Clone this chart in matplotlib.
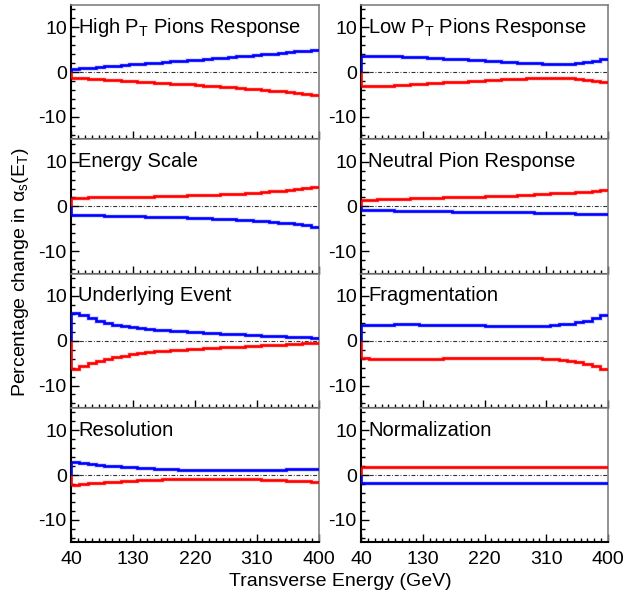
import matplotlib
matplotlib.use('Agg')
import matplotlib.pyplot as plt
from matplotlib.ticker import MultipleLocator, FixedLocator
import numpy as np

plt.rcParams['font.family'] = ['Liberation Sans', 'DejaVu Sans']
plt.rcParams['mathtext.fontset'] = 'custom'
plt.rcParams['mathtext.rm'] = 'Liberation Sans'
plt.rcParams['mathtext.it'] = 'Liberation Sans:italic'
plt.rcParams['axes.unicode_minus'] = False

# transverse energy binning (GeV), 30 bins of 12 GeV
et_edges = np.linspace(40, 400, 31)

titles = [r'High P$_\mathrm{T}$ Pions Response', r'Low P$_\mathrm{T}$ Pions Response',
          'Energy Scale', 'Neutral Pion Response',
          'Underlying Event', 'Fragmentation',
          'Resolution', 'Normalization']

# percentage change, blue = one variation, red = the other
hipt_blue = [0.7, 0.85, 1.0, 1.15, 1.3, 1.45, 1.6, 1.75, 1.9, 2.0, 2.15, 2.3, 2.4, 2.55, 2.65,
             2.8, 2.95, 3.1, 3.25, 3.4, 3.55, 3.7, 3.85, 4.0, 4.15, 4.3, 4.5, 4.65, 4.8, 4.95]
hipt_red = [-1.2, -1.3, -1.45, -1.55, -1.65, -1.8, -1.9, -2.0, -2.1, -2.2, -2.35, -2.45, -2.55, -2.65, -2.75,
            -2.85, -3.0, -3.1, -3.25, -3.4, -3.55, -3.7, -3.85, -4.0, -4.15, -4.3, -4.5, -4.65, -4.85, -5.0]

lopt_blue = [3.6, 3.6, 3.6, 3.55, 3.5, 3.4, 3.35, 3.3, 3.2, 3.1, 3.0, 2.95, 2.85, 2.75, 2.65,
             2.55, 2.45, 2.35, 2.25, 2.15, 2.05, 1.95, 1.9, 1.85, 1.85, 1.9, 2.0, 2.2, 2.5, 2.9]
lopt_red = [-3.2, -3.15, -3.1, -3.0, -2.9, -2.8, -2.7, -2.6, -2.5, -2.4, -2.3, -2.2, -2.1, -2.0, -1.9,
            -1.8, -1.7, -1.6, -1.55, -1.5, -1.4, -1.35, -1.3, -1.3, -1.3, -1.35, -1.45, -1.65, -1.9, -2.25]

escale_blue = [-1.9, -1.95, -2.0, -2.0, -2.05, -2.1, -2.15, -2.2, -2.2, -2.25, -2.3, -2.35, -2.4, -2.45, -2.5,
               -2.55, -2.6, -2.7, -2.75, -2.85, -2.95, -3.05, -3.15, -3.3, -3.45, -3.6, -3.8, -4.0, -4.25, -4.5]
escale_red = [1.9, 1.95, 2.0, 2.0, 2.05, 2.1, 2.1, 2.15, 2.2, 2.2, 2.25, 2.3, 2.35, 2.4, 2.45,
              2.5, 2.55, 2.6, 2.7, 2.75, 2.85, 2.95, 3.05, 3.2, 3.35, 3.5, 3.7, 3.9, 4.1, 4.3]

pi0_blue = [-0.8, -0.85, -0.9, -0.9, -0.95, -1.0, -1.0, -1.05, -1.05, -1.1, -1.1, -1.15, -1.15, -1.2, -1.2,
            -1.2, -1.25, -1.25, -1.3, -1.3, -1.35, -1.4, -1.45, -1.5, -1.5, -1.55, -1.6, -1.65, -1.7, -1.75]
pi0_red = [1.5, 1.55, 1.6, 1.65, 1.7, 1.75, 1.8, 1.85, 1.9, 1.95, 2.0, 2.05, 2.1, 2.15, 2.2,
           2.25, 2.3, 2.35, 2.4, 2.5, 2.6, 2.7, 2.8, 2.9, 3.0, 3.1, 3.2, 3.3, 3.45, 3.6]

ue_blue = [6.3, 5.7, 5.0, 4.5, 4.0, 3.6, 3.3, 3.05, 2.85, 2.65, 2.5, 2.35, 2.2, 2.1, 2.0,
           1.9, 1.8, 1.7, 1.6, 1.5, 1.4, 1.3, 1.25, 1.15, 1.05, 1.0, 0.9, 0.8, 0.75, 0.65]
ue_red = [-6.3, -5.6, -5.0, -4.5, -4.0, -3.6, -3.3, -3.0, -2.8, -2.6, -2.4, -2.3, -2.15, -2.0, -1.9,
          -1.8, -1.7, -1.6, -1.5, -1.4, -1.3, -1.2, -1.15, -1.05, -0.95, -0.85, -0.75, -0.65, -0.55, -0.45]

frag_blue = [3.5, 3.55, 3.6, 3.6, 3.65, 3.65, 3.65, 3.6, 3.6, 3.55, 3.55, 3.5, 3.5, 3.45, 3.45,
             3.4, 3.4, 3.35, 3.35, 3.3, 3.3, 3.35, 3.4, 3.5, 3.65, 3.85, 4.1, 4.5, 5.0, 5.8]
frag_red = [-3.9, -4.0, -4.0, -4.05, -4.05, -4.05, -4.05, -4.0, -4.0, -4.0, -3.95, -3.95, -3.9, -3.9, -3.85,
            -3.85, -3.8, -3.8, -3.8, -3.8, -3.85, -3.9, -4.0, -4.15, -4.3, -4.5, -4.8, -5.2, -5.7, -6.4]

reso_blue = [2.9, 2.7, 2.45, 2.25, 2.1, 1.95, 1.8, 1.7, 1.6, 1.5, 1.4, 1.3, 1.25, 1.2, 1.15,
             1.1, 1.05, 1.05, 1.05, 1.05, 1.05, 1.05, 1.1, 1.1, 1.15, 1.2, 1.25, 1.3, 1.35, 1.4]
reso_red = [-2.3, -2.05, -1.85, -1.7, -1.55, -1.45, -1.35, -1.25, -1.15, -1.05, -1.0, -0.95, -0.9, -0.85, -0.85,
            -0.8, -0.8, -0.8, -0.8, -0.85, -0.85, -0.9, -0.95, -1.0, -1.05, -1.15, -1.25, -1.3, -1.4, -1.5]

norm_blue = [-1.8] * 30
norm_red = [1.8] * 30

blue_series = [hipt_blue, lopt_blue, escale_blue, pi0_blue, ue_blue, frag_blue, reso_blue, norm_blue]
red_series = [hipt_red, lopt_red, escale_red, pi0_red, ue_red, frag_red, reso_red, norm_red]

W, H = 633, 603
fig = plt.figure(figsize=(W / 100, H / 100), dpi=100)

col_left = [71, 361]
col_width = [248, 247]
row_top0 = 5
row_h = 134.3

for k in range(8):
    row, col = k // 2, k % 2
    top = row_top0 + row_h * row
    ax = fig.add_axes([col_left[col] / W, 1 - (top + row_h) / H, col_width[col] / W, row_h / H])

    ax.axhline(0, color='#333333', lw=0.8, dashes=[3.5, 1.6, 0.8, 1.6], zorder=1)
    for vals, c in ((blue_series[k], '#0000ff'), (red_series[k], '#ff0000')):
        vals = np.asarray(vals)
        ax.stairs(vals, et_edges, color=c, lw=3.4, alpha=0.15, baseline=None, zorder=2)
        ax.stairs(vals, et_edges, color=c, lw=1.9, baseline=None, zorder=3)
        ax.vlines(et_edges[0], 0, vals[0], color=c, lw=1.9, zorder=3)

    ax.set_xlim(40, 400)
    ax.set_ylim(-15, 15)
    ax.xaxis.set_major_locator(FixedLocator([40, 130, 220, 310, 400]))
    ax.xaxis.set_minor_locator(MultipleLocator(10))
    ax.yaxis.set_major_locator(FixedLocator([-10, 0, 10]))
    ax.yaxis.set_minor_locator(MultipleLocator(2))
    ax.tick_params(which='both', direction='in', top=False, right=False,
                   labelsize=14, colors='black', width=1)
    ax.tick_params(which='major', length=6)
    ax.tick_params(which='minor', length=3)
    ax.tick_params(axis='y', pad=3)
    ax.tick_params(axis='x', pad=6)
    if row < 3:
        ax.tick_params(axis='x', labelbottom=False)

    for s in ('left', 'bottom'):
        ax.spines[s].set_linewidth(1.5)
        ax.spines[s].set_color('black')
    for s in ('top', 'right'):
        ax.spines[s].set_linewidth(1.2)
        ax.spines[s].set_color('#808080')

    ax.text(0.028, 0.835, titles[k], transform=ax.transAxes, fontsize=14.5,
            va='center', ha='left', zorder=5)

fig.text(340 / W, 1 - 581 / H, 'Transverse Energy (GeV)', fontsize=14,
         ha='center', va='center')
fig.text(21 / W, 1 - 272 / H, r'Percentage change in $\mathrm{α_s(E_T)}$', fontsize=14,
         ha='center', va='center', rotation=90)

fig.savefig('out.png', dpi=100)
